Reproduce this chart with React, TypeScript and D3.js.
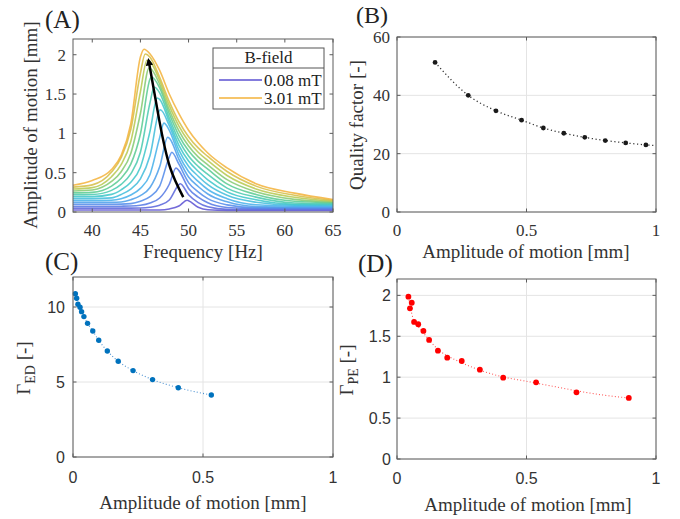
import React from 'react';
import * as d3 from 'd3';

// ---- (A) frequency sweeps, one row per B-field step ----
const freqGrid = [38, 40, 42, 43, 44, 45, 46, 47, 48, 49, 50, 51, 52, 54, 57, 61, 65];
const peakFreq = [49.85, 49.14, 48.7, 48.26, 47.84, 47.44, 47.07, 46.74, 46.43, 46.15, 45.9, 45.68, 45.5, 45.38];
const peakAmp = [0.15, 0.36, 0.56, 0.76, 0.95, 1.13, 1.3, 1.45, 1.59, 1.72, 1.83, 1.93, 2.01, 2.07];
const sweepAmp = [
  [0.025, 0.025, 0.025, 0.025, 0.025, 0.025, 0.025, 0.026, 0.039, 0.076, 0.144, 0.06, 0.028, 0.02, 0.02, 0.02, 0.02],
  [0.049, 0.049, 0.049, 0.049, 0.049, 0.05, 0.06, 0.087, 0.153, 0.348, 0.22, 0.12, 0.066, 0.033, 0.031, 0.031, 0.031],
  [0.073, 0.073, 0.073, 0.074, 0.076, 0.085, 0.115, 0.178, 0.353, 0.526, 0.3, 0.189, 0.117, 0.058, 0.043, 0.042, 0.042],
  [0.098, 0.098, 0.099, 0.1, 0.107, 0.138, 0.196, 0.329, 0.698, 0.608, 0.374, 0.257, 0.17, 0.091, 0.054, 0.052, 0.052],
  [0.122, 0.122, 0.123, 0.128, 0.156, 0.208, 0.311, 0.574, 0.94, 0.668, 0.445, 0.324, 0.229, 0.129, 0.07, 0.064, 0.063],
  [0.146, 0.146, 0.15, 0.169, 0.217, 0.3, 0.478, 0.946, 1.039, 0.726, 0.514, 0.39, 0.286, 0.17, 0.093, 0.075, 0.074],
  [0.17, 0.17, 0.18, 0.223, 0.292, 0.421, 0.718, 1.294, 1.099, 0.787, 0.583, 0.455, 0.347, 0.212, 0.124, 0.087, 0.085],
  [0.195, 0.196, 0.224, 0.282, 0.379, 0.569, 1.027, 1.432, 1.147, 0.848, 0.649, 0.518, 0.41, 0.256, 0.155, 0.098, 0.095],
  [0.219, 0.222, 0.275, 0.351, 0.484, 0.759, 1.391, 1.515, 1.196, 0.91, 0.713, 0.58, 0.477, 0.304, 0.189, 0.115, 0.106],
  [0.243, 0.25, 0.33, 0.43, 0.608, 0.992, 1.691, 1.578, 1.249, 0.972, 0.778, 0.643, 0.545, 0.357, 0.223, 0.136, 0.117],
  [0.267, 0.28, 0.388, 0.512, 0.744, 1.253, 1.828, 1.624, 1.299, 1.031, 0.839, 0.701, 0.6, 0.411, 0.257, 0.16, 0.128],
  [0.292, 0.31, 0.449, 0.603, 0.896, 1.528, 1.911, 1.67, 1.352, 1.092, 0.9, 0.76, 0.654, 0.464, 0.293, 0.187, 0.138],
  [0.316, 0.345, 0.508, 0.691, 1.047, 1.765, 1.969, 1.712, 1.404, 1.149, 0.958, 0.815, 0.706, 0.515, 0.329, 0.212, 0.149],
  [0.34, 0.4, 0.54, 0.72, 1.12, 1.97, 2.01, 1.8, 1.5, 1.25, 1.04, 0.88, 0.75, 0.56, 0.36, 0.24, 0.16],
];
const bFieldLabels = ['0.08 mT', '3.01 mT'];
const arrowFreq = [49.45, 48.07, 46.96, 45.85];
const arrowAmp = [0.19, 0.57, 1.165, 1.93];

// ---- (B) quality factor ----
const qualityAmp = [0.147, 0.275, 0.382, 0.481, 0.565, 0.644, 0.725, 0.804, 0.883, 0.961];
const qualityFactor = [51.3, 40.0, 34.7, 31.5, 28.8, 27.0, 25.6, 24.5, 23.7, 23.0];
const qualityFitAmp = [0.147, 0.275, 0.382, 0.481, 0.565, 0.644, 0.725, 0.804, 0.883, 0.961, 0.995];
const qualityFit = [51.3, 40.0, 34.7, 31.5, 28.8, 27.0, 25.6, 24.5, 23.7, 23.0, 22.8];

// ---- (C) Gamma_ED ----
const gammaEdAmp = [0.009, 0.014, 0.019, 0.027, 0.033, 0.042, 0.056, 0.076, 0.099, 0.132, 0.174, 0.231, 0.306, 0.405, 0.532];
const gammaEd = [10.89, 10.58, 10.18, 9.98, 9.69, 9.36, 8.91, 8.4, 7.78, 7.07, 6.38, 5.76, 5.16, 4.62, 4.13];

// ---- (D) Gamma_PE ----
const gammaPeAmp = [0.044, 0.057, 0.05, 0.066, 0.082, 0.102, 0.124, 0.158, 0.194, 0.25, 0.32, 0.41, 0.537, 0.693, 0.895];
const gammaPe = [1.984, 1.91, 1.842, 1.675, 1.647, 1.565, 1.455, 1.324, 1.238, 1.198, 1.092, 0.994, 0.937, 0.815, 0.746];
const gammaPeFitAmp = [0.044, 0.06, 0.08, 0.1, 0.13, 0.17, 0.22, 0.3, 0.4, 0.5, 0.6, 0.7, 0.8, 0.895];
const gammaPeFit = [1.98, 1.74, 1.63, 1.55, 1.43, 1.31, 1.22, 1.11, 1.01, 0.95, 0.89, 0.83, 0.78, 0.746];

const SERIF = "'Liberation Serif', 'Times New Roman', serif";
const SANS = "'Liberation Sans', Arial, sans-serif";

const sweepColor = d3
  .scaleLinear<string>()
  .domain([0, 0.2, 0.4, 0.55, 0.7, 0.85, 1])
  .range(['#5b50d2', '#5283ea', '#42b3ea', '#3bc8c6', '#58ca8e', '#b8c84c', '#f3b23a'])
  .interpolate(d3.interpolateRgb);

type Scale = d3.ScaleLinear<number, number>;

function Frame({ x, y, xTicks, yTicks, grid, font, size, xTickY, yTickX, children }: {
  x: Scale; y: Scale; xTicks: number[]; yTicks: number[]; grid: boolean; font: string; size: number;
  xTickY: number; yTickX: number; children?: React.ReactNode;
}) {
  const [l, r] = x.range();
  const [b, t] = y.range();
  const tl = 3.5;
  const fmt = (v: number) => String(v);
  return (
    <g>
      <rect x={l} y={t} width={r - l} height={b - t} fill="#fff" />
      {grid && xTicks.map(v => <line key={'gx' + v} x1={x(v)} x2={x(v)} y1={t} y2={b} stroke="#e4e4e4" />)}
      {grid && yTicks.map(v => <line key={'gy' + v} x1={l} x2={r} y1={y(v)} y2={y(v)} stroke="#e4e4e4" />)}
      {children}
      <rect x={l} y={t} width={r - l} height={b - t} fill="none" stroke="#5c5c5c" strokeWidth={1} />
      {xTicks.map(v => (
        <g key={'tx' + v}>
          <line x1={x(v)} x2={x(v)} y1={b} y2={b - tl} stroke="#5c5c5c" />
          <line x1={x(v)} x2={x(v)} y1={t} y2={t + tl} stroke="#5c5c5c" />
          <text x={x(v)} y={xTickY} textAnchor="middle" fontFamily={font} fontSize={size} fill="#333">{fmt(v)}</text>
        </g>
      ))}
      {yTicks.map(v => (
        <g key={'ty' + v}>
          <line x1={l} x2={l + tl} y1={y(v)} y2={y(v)} stroke="#5c5c5c" />
          <line x1={r} x2={r - tl} y1={y(v)} y2={y(v)} stroke="#5c5c5c" />
          <text x={yTickX} y={y(v)} dy="0.35em" textAnchor="end" fontFamily={font} fontSize={size} fill="#333">{fmt(v)}</text>
        </g>
      ))}
    </g>
  );
}

export default function App() {
  // panel scales
  const xA = d3.scaleLinear().domain([38, 65]).range([73, 333]);
  const yA = d3.scaleLinear().domain([0, 2.2]).range([212, 39]);
  const xB = d3.scaleLinear().domain([0, 1]).range([397, 656]);
  const yB = d3.scaleLinear().domain([0, 60]).range([212, 37]);
  const xC = d3.scaleLinear().domain([0, 1]).range([73, 333]);
  const yC = d3.scaleLinear().domain([0, 12]).range([457, 277]);
  const xD = d3.scaleLinear().domain([0, 1]).range([397, 656]);
  const yD = d3.scaleLinear().domain([0, 2.2]).range([459, 279]);

  const lineA = d3.line<[number, number]>().x(d => xA(d[0])).y(d => yA(d[1])).curve(d3.curveMonotoneX);
  const sweeps = sweepAmp.map((row, i) => {
    const pts: [number, number][] = freqGrid.map((f, j) => [f, row[j]] as [number, number]);
    pts.push([peakFreq[i], peakAmp[i]]);
    pts.sort((a, b) => a[0] - b[0]);
    return lineA(pts) as string;
  });
  const arrowLine = d3.line<number>().x((_, i) => xA(arrowFreq[i])).y((_, i) => yA(arrowAmp[i])).curve(d3.curveNatural);

  const lineB = d3.line<number>().x((_, i) => xB(qualityFitAmp[i])).y(d => yB(d)).curve(d3.curveMonotoneX);
  const lineC = d3.line<number>().x((_, i) => xC(gammaEdAmp[i])).y(d => yC(d)).curve(d3.curveMonotoneX);
  const lineD = d3.line<number>().x((_, i) => xD(gammaPeFitAmp[i])).y(d => yD(d)).curve(d3.curveMonotoneX);

  const n = sweepAmp.length;

  return (
    <svg width={680} height={519} style={{ position: 'absolute', left: 0, top: 0, background: '#fff' }}>
      <defs>
        <marker id="arrowHead" viewBox="0 0 10 10" refX="7" refY="5" markerWidth="3" markerHeight="3" orient="auto">
          <path d="M0,0 L10,5 L0,10 z" fill="#000" />
        </marker>
      </defs>
      <rect width={680} height={519} fill="#fff" />

      {/* (A) */}
      <Frame x={xA} y={yA} xTicks={[40, 45, 50, 55, 60, 65]} yTicks={[0, 0.5, 1, 1.5, 2]} grid={false}
        font={SERIF} size={17} xTickY={236} yTickX={66}>
        {sweeps.map((d, i) => (
          <path key={i} d={d} fill="none" stroke={sweepColor(i / (n - 1))} strokeWidth={1.6} strokeOpacity={0.85} />
        ))}
        <path d={arrowLine(arrowFreq) as string} fill="none" stroke="#000" strokeWidth={2.5} markerEnd="url(#arrowHead)" />
        <g>
          <rect x={213} y={48} width={111} height={61} fill="#fff" stroke="#555" />
          <line x1={213} x2={324} y1={68} y2={68} stroke="#555" />
          <text x={268.5} y={63} textAnchor="middle" fontFamily={SERIF} fontSize={17} fill="#222">B-field</text>
          {bFieldLabels.map((lab, i) => (
            <g key={lab}>
              <line x1={219} x2={262} y1={80 + i * 18} y2={80 + i * 18} stroke={sweepColor(i)} strokeWidth={1.3} />
              <text x={264} y={85.5 + i * 18} fontFamily={SERIF} fontSize={17} fill="#222">{lab}</text>
            </g>
          ))}
        </g>
      </Frame>
      <text x={45} y={28} fontFamily={SERIF} fontSize={25} fill="#222">(A)</text>
      <text x={203} y={258} textAnchor="middle" fontFamily={SERIF} fontSize={19} fill="#333">Frequency [Hz]</text>
      <text transform={`translate(37,125) rotate(-90)`} textAnchor="middle" fontFamily={SERIF} fontSize={19} fill="#333">Amplitude of motion [mm]</text>

      {/* (B) */}
      <Frame x={xB} y={yB} xTicks={[0, 0.5, 1]} yTicks={[0, 20, 40, 60]} grid={true}
        font={SERIF} size={17} xTickY={236} yTickX={390}>
        <path d={lineB(qualityFit) as string} fill="none" stroke="#333" strokeWidth={1.3} strokeDasharray="1.2 2.6" />
        {qualityAmp.map((a, i) => (
          <circle key={i} cx={xB(a)} cy={yB(qualityFactor[i])} r={2.4} fill="#1a1a1a" />
        ))}
      </Frame>
      <text x={356} y={23} fontFamily={SERIF} fontSize={24} fill="#222">(B)</text>
      <text x={526} y={258} textAnchor="middle" fontFamily={SERIF} fontSize={19} fill="#333">Amplitude of motion [mm]</text>
      <text transform={`translate(363,125) rotate(-90)`} textAnchor="middle" fontFamily={SERIF} fontSize={19} fill="#333">Quality factor [-]</text>

      {/* (C) */}
      <Frame x={xC} y={yC} xTicks={[0, 0.5, 1]} yTicks={[0, 5, 10]} grid={true}
        font={SANS} size={16} xTickY={483} yTickX={65}>
        <path d={lineC(gammaEd) as string} fill="none" stroke="#4a90d0" strokeWidth={1.1} strokeDasharray="1 2.2" />
        {gammaEdAmp.map((a, i) => (
          <circle key={i} cx={xC(a)} cy={yC(gammaEd[i])} r={2.7} fill="#0072BD" />
        ))}
      </Frame>
      <text x={45} y={270} fontFamily={SERIF} fontSize={25} fill="#222">(C)</text>
      <text x={203} y={509} textAnchor="middle" fontFamily={SERIF} fontSize={19} fill="#333">Amplitude of motion [mm]</text>
      <text transform={`translate(30,368) rotate(-90)`} textAnchor="middle" fontFamily={SERIF} fontSize={19} fill="#333">
        Γ<tspan dy={5} fontSize={14}>ED</tspan><tspan dy={-5}> [-]</tspan>
      </text>

      {/* (D) */}
      <Frame x={xD} y={yD} xTicks={[0, 0.5, 1]} yTicks={[0, 0.5, 1, 1.5, 2]} grid={true}
        font={SANS} size={16} xTickY={484} yTickX={391}>
        <path d={lineD(gammaPeFit) as string} fill="none" stroke="#ff5a5a" strokeWidth={1.1} strokeDasharray="1 2.2" />
        {gammaPeAmp.map((a, i) => (
          <circle key={i} cx={xD(a)} cy={yD(gammaPe[i])} r={2.9} fill="#ff0000" />
        ))}
      </Frame>
      <text x={358} y={272} fontFamily={SERIF} fontSize={25} fill="#222">(D)</text>
      <text x={528} y={511} textAnchor="middle" fontFamily={SERIF} fontSize={19} fill="#333">Amplitude of motion [mm]</text>
      <text transform={`translate(353,370) rotate(-90)`} textAnchor="middle" fontFamily={SERIF} fontSize={19} fill="#333">
        Γ<tspan dy={5} fontSize={14}>PE</tspan><tspan dy={-5}> [-]</tspan>
      </text>
    </svg>
  );
}
